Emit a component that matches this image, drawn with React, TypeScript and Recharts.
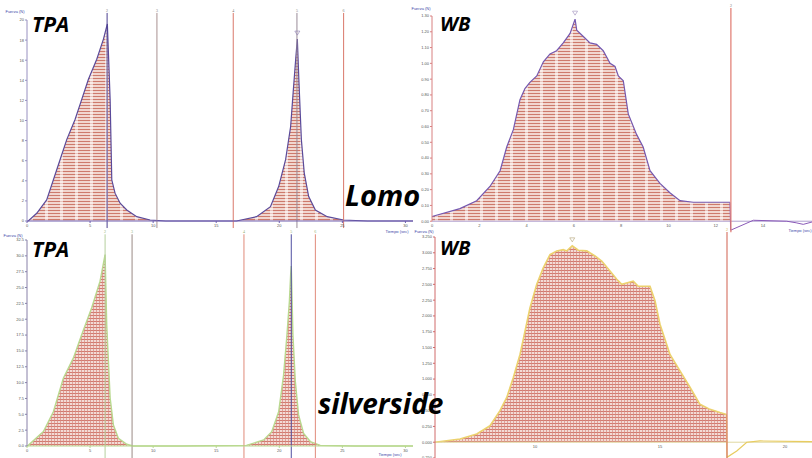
import React from 'react';
import { ComposedChart, Area, Line, XAxis, YAxis, ReferenceLine, ReferenceDot } from 'recharts';

// ---------- TPA Lomo ----------
const tpaLomoTime = [0, 0.1, 0.77, 1.56, 2.62, 3.15, 3.81, 4.34, 4.87, 5.53, 6.06, 6.37, 6.59, 6.72, 6.98, 7.38, 7.91, 8.7, 9.76, 11, 16.6, 18.2, 19.3, 19.95, 20.5, 20.9, 21.1, 21.3, 21.43, 21.56, 21.75, 21.98, 22.33, 22.86, 23.8, 25.1, 27, 30.6];
const tpaLomoForce = [0, 0, 0.77, 2.1, 6.1, 8.1, 10.1, 12.1, 14.1, 16.1, 18.1, 19.6, 12.1, 4.1, 2.77, 1.77, 1.1, 0.43, 0.1, 0, 0, 0.43, 1.43, 3.43, 6.1, 9.4, 12.8, 16.1, 18.1, 13.8, 8.1, 4.77, 2.43, 1.1, 0.43, 0.1, 0, 0];
const tpaLomoMarks = [6.35, 10.3, 16.35, 21.4, 25.1];
const tpaMarkLabels = ['2', '3', '4', '5', '6'];
const tpaLomoPeak = { t: 21.43, f: 18.1 };

// ---------- TPA silverside ----------
const tpaSilvTime = [0, 0.1, 1.3, 2.09, 2.88, 3.68, 4.34, 5.13, 5.79, 6.19, 6.32, 6.59, 6.85, 7.25, 7.91, 8.4, 12, 17.4, 18.76, 19.4, 19.95, 20.34, 20.61, 20.8, 20.9, 20.95, 21.08, 21.27, 21.53, 21.93, 22.46, 23.25, 26, 30.6];
const tpaSilvForce = [0, 0.1, 2.27, 5.4, 10.7, 13.9, 17.6, 21.8, 26, 30.2, 19.1, 7.6, 3.3, 1.2, 0.27, 0, 0, 0.1, 0.95, 2.27, 5.4, 11.2, 17.6, 22.8, 27, 28.4, 17.6, 10.2, 4.9, 2.0, 0.7, 0.1, 0, 0];
const tpaSilvMarks = [6.19, 8.33, 17.2, 20.95, 22.86];

// ---------- WB Lomo ----------
const wbLomoTime = [0, 1.18, 1.89, 2.45, 2.88, 3.16, 3.44, 3.72, 3.93, 4.14, 4.43, 4.71, 4.99, 5.27, 5.55, 5.84, 6.05, 6.12, 6.4, 6.68, 6.96, 7.24, 7.53, 7.74, 7.88, 8.09, 8.3, 8.65, 8.93, 9.22, 9.64, 10.06, 10.49, 11.05, 11.75, 12.6];
const wbLomoForce = [0.03, 0.08, 0.13, 0.22, 0.32, 0.47, 0.58, 0.77, 0.84, 0.88, 0.92, 1.01, 1.06, 1.08, 1.13, 1.19, 1.28, 1.21, 1.17, 1.13, 1.12, 1.08, 1.0, 0.98, 0.92, 0.89, 0.68, 0.55, 0.47, 0.32, 0.24, 0.18, 0.13, 0.12, 0.12, 0.12];
const wbLomoTailTime = [12.6, 12.63, 13.59, 15.0, 15.4, 15.7, 16.07];
const wbLomoTail = [0.12, -0.057, 0.006, 0, -0.01, -0.02, -0.005];
const wbLomoMarks = [12.64];
const wbLomoPeak = { t: 6.05, f: 1.28 };

// ---------- WB silverside ----------
const wbSilvTime = [6.0, 7.0, 7.67, 8.2, 8.6, 8.87, 9.13, 9.4, 9.6, 9.8, 10.07, 10.33, 10.6, 10.87, 11.13, 11.27, 11.49, 11.73, 12.07, 12.4, 12.67, 13.0, 13.27, 13.47, 13.73, 13.93, 14.13, 14.6, 14.8, 15.0, 15.4, 15.8, 16.2, 16.6, 17.0, 17.4, 17.66];
const wbSilvForce = [0, 0.05, 0.13, 0.26, 0.5, 0.71, 1.02, 1.39, 1.76, 2.13, 2.5, 2.76, 2.97, 3.03, 3.05, 3.03, 3.11, 3.04, 3.03, 2.95, 2.87, 2.71, 2.58, 2.5, 2.53, 2.55, 2.47, 2.47, 2.24, 1.87, 1.39, 1.13, 0.87, 0.6, 0.52, 0.47, 0.44];
const wbSilvTailTime = [17.66, 17.68, 18.07, 18.47, 19.0, 21.08];
const wbSilvTail = [0.44, -0.24, -0.14, 0, 0.02, 0.01];
const wbSilvMarks = [17.68];
const wbSilvPeak = { t: 11.49, f: 3.11 };

// ---------- ticks ----------
const tpaXTicks = [0, 5, 10, 15, 20, 25, 30];
const tpaLomoYTicks = [0, 2, 4, 6, 8, 10, 12, 14, 16, 18, 20];
const tpaSilvYTicks = [0, 2.5, 5, 7.5, 10, 12.5, 15, 17.5, 20, 22.5, 25, 27.5, 30, 32.5];
const wbLomoXTicks = [0, 2, 4, 6, 8, 10, 12, 14];
const wbLomoYTicks = [0, 0.1, 0.2, 0.3, 0.4, 0.5, 0.6, 0.7, 0.8, 0.9, 1.0, 1.1, 1.2, 1.3];
const wbSilvXTicks = [10, 15, 20];
const wbSilvYTicks = [-0.25, 0, 0.25, 0.5, 0.75, 1, 1.25, 1.5, 1.75, 2, 2.25, 2.5, 2.75, 3, 3.25];

const build = (ts: number[], vs: number[], key: string) => ts.map((t, i) => ({ t, [key]: vs[i] }));

const tpaLomoData = build(tpaLomoTime, tpaLomoForce, 'f');
const tpaSilvData = build(tpaSilvTime, tpaSilvForce, 'f');
const wbLomoData = [...build(wbLomoTime, wbLomoForce, 'f'), ...build(wbLomoTailTime, wbLomoTail, 'tail')];
const wbSilvData = [...build(wbSilvTime, wbSilvForce, 'f'), ...build(wbSilvTailTime, wbSilvTail, 'tail')];

const tickStyle = { fontSize: 4, fill: '#555', fontFamily: 'Arial, sans-serif' };

const shiftedTick = (shift: number) => (props: any) => {
  const { x, y, payload } = props;
  return (
    <text x={x} y={y - shift} dy="0.71em" textAnchor="middle" fontSize={4} fill="#555" fontFamily="Arial, sans-serif">
      {payload.value}
    </text>
  );
};

const peakMarker = (color: string) => (props: any) => {
  const { cx, cy } = props;
  if (cx == null || cy == null) return <g />;
  const top = cy - 8;
  return (
    <path d={`M${cx - 2.5},${top} L${cx + 2.5},${top} L${cx},${top + 4} Z`} fill="none" stroke={color} strokeWidth={0.6} />
  );
};

const CoarsePattern = ({ id }: { id: string }) => (
  <defs>
    <pattern id={id} width="15" height="3" patternUnits="userSpaceOnUse">
      <rect width="15" height="3" fill="#f1d6cf" />
      <rect width="15" height="1" y="0" fill="#cd7a6c" />
      <rect width="3" height="3" x="0" fill="#ffffff" opacity="0.55" />
    </pattern>
  </defs>
);

const FinePattern = ({ id }: { id: string }) => (
  <defs>
    <pattern id={id} width="3" height="3" patternUnits="userSpaceOnUse">
      <rect width="3" height="3" fill="#f3dad5" />
      <rect width="3" height="1" y="0" fill="#d27a6f" />
      <rect width="1" height="3" x="0" fill="#d88a80" opacity="0.7" />
    </pattern>
  </defs>
);

const tlLineColors = ['#4a3f8f', '#a89090', '#d9786a', '#9a8c98', '#d9786a'];
const blLineColors = ['#b5cf9e', '#9a8a86', '#e08a7a', '#4f4fa0', '#e08a7a'];

export default function App() {
  return (
    <div style={{ position: 'absolute', left: 0, top: 0, width: 812, height: 458, overflow: 'hidden', background: '#fff' }}>
      {/* TPA Lomo */}
      <div style={{ position: 'absolute', left: 0, top: 0 }}>
        <ComposedChart width={420} height={235} data={tpaLomoData} margin={{ top: 20, right: 7, bottom: 0, left: 0 }}>
          <CoarsePattern id="patTL" />
          <XAxis dataKey="t" type="number" domain={[0, 30.6]} ticks={tpaXTicks} interval={0} height={14}
            stroke="#6f5fb0" tick={tickStyle} tickSize={2} tickMargin={1} />
          <YAxis type="number" domain={[0, 20]} ticks={tpaLomoYTicks} interval={0} width={27}
            stroke="#9890c0" tick={tickStyle} tickSize={2} tickMargin={1} />
          <Area type="linear" dataKey="f" stroke="#5a4a9a" strokeWidth={1.2} fill="url(#patTL)" fillOpacity={1}
            baseValue={0} isAnimationActive={false} dot={false} activeDot={false} />
          {tpaLomoMarks.map((m, i) => (
            <ReferenceLine key={i} segment={[{ x: m, y: -0.7 }, { x: m, y: 20.7 }]} ifOverflow="visible"
              stroke={tlLineColors[i]} strokeWidth={1}
              label={{ value: tpaMarkLabels[i], position: 'top', fontSize: 4, fill: '#777', offset: 1 }} />
          ))}
          <ReferenceDot x={tpaLomoPeak.t} y={tpaLomoPeak.f} ifOverflow="visible" shape={peakMarker('#8a7ab0')} />
        </ComposedChart>
      </div>

      {/* WB Lomo */}
      <div style={{ position: 'absolute', left: 405, top: 0 }}>
        <ComposedChart width={407} height={238} data={wbLomoData} margin={{ top: 16, right: 0, bottom: 0, left: 0 }}>
          <CoarsePattern id="patTR" />
          <XAxis dataKey="t" type="number" domain={[0, 16.07]} ticks={wbLomoXTicks} interval={0} height={1}
            axisLine={false} tickLine={false} tick={shiftedTick(16)} tickSize={2} tickMargin={1} />
          <YAxis type="number" domain={[-0.1, 1.3]} ticks={wbLomoYTicks} interval={0} width={27}
            axisLine={false} stroke="#d88080" tick={tickStyle} tickSize={2} tickMargin={1}
            tickFormatter={(v: number) => v.toFixed(2)} />
          <ReferenceLine y={0} stroke="#b0a0d0" strokeWidth={1} />
          <ReferenceLine segment={[{ x: 0, y: 0 }, { x: 0, y: 1.3 }]} stroke="#d88080" strokeWidth={1} />
          <Area type="linear" dataKey="f" stroke="#7458b0" strokeWidth={1.2} fill="url(#patTR)" fillOpacity={1}
            baseValue={0} isAnimationActive={false} dot={false} activeDot={false} />
          <Line type="linear" dataKey="tail" stroke="#8a5ab8" strokeWidth={1} dot={false} activeDot={false}
            isAnimationActive={false} />
          {wbLomoMarks.map((m, i) => (
            <ReferenceLine key={i} segment={[{ x: m, y: -0.07 }, { x: m, y: 1.35 }]} ifOverflow="visible"
              stroke="#e07a70" strokeWidth={1.2}
              label={{ value: '2', position: 'top', fontSize: 4, fill: '#777', offset: 1 }} />
          ))}
          <ReferenceDot x={wbLomoPeak.t} y={wbLomoPeak.f} ifOverflow="visible" shape={peakMarker('#9a8ab8')} />
        </ComposedChart>
      </div>

      {/* TPA silverside */}
      <div style={{ position: 'absolute', left: 0, top: 228 }}>
        <ComposedChart width={420} height={230} data={tpaSilvData} margin={{ top: 12, right: 7, bottom: 0, left: 0 }}>
          <FinePattern id="patBL" />
          <XAxis dataKey="t" type="number" domain={[0, 30.6]} ticks={tpaXTicks} interval={0} height={12}
            stroke="#b8d890" tick={tickStyle} tickSize={2} tickMargin={1} />
          <YAxis type="number" domain={[0, 32.5]} ticks={tpaSilvYTicks} interval={0} width={27}
            stroke="#8880a8" tick={tickStyle} tickSize={2} tickMargin={1}
            tickFormatter={(v: number) => v.toFixed(1)} />
          <Area type="linear" dataKey="f" stroke="#b9d98f" strokeWidth={1.4} fill="url(#patBL)" fillOpacity={1}
            baseValue={0} isAnimationActive={false} dot={false} activeDot={false} />
          {tpaSilvMarks.map((m, i) => (
            <ReferenceLine key={i} segment={[{ x: m, y: -1.9 }, { x: m, y: 33.4 }]} ifOverflow="visible"
              stroke={blLineColors[i]} strokeWidth={1}
              label={{ value: tpaMarkLabels[i], position: 'top', fontSize: 4, fill: '#8ab070', offset: 1 }} />
          ))}
        </ComposedChart>
      </div>

      {/* WB silverside */}
      <div style={{ position: 'absolute', left: 408, top: 225 }}>
        <ComposedChart width={404} height={234} data={wbSilvData} margin={{ top: 12, right: 0, bottom: 0, left: 0 }}>
          <FinePattern id="patBR" />
          <XAxis dataKey="t" type="number" domain={[6, 21.08]} ticks={wbSilvXTicks} interval={0} height={1}
            axisLine={false} tickLine={false} tick={shiftedTick(16)} tickSize={2} tickMargin={1} />
          <YAxis type="number" domain={[-0.25, 3.25]} ticks={wbSilvYTicks} interval={0} width={27}
            stroke="#d06a6a" tick={tickStyle} tickSize={2} tickMargin={1}
            tickFormatter={(v: number) => v.toFixed(3)} />
          <ReferenceLine y={0} stroke="#e0d8a0" strokeWidth={1} />
          <Area type="linear" dataKey="f" stroke="#ecd26e" strokeWidth={1.6} fill="url(#patBR)" fillOpacity={1}
            baseValue={0} isAnimationActive={false} dot={false} activeDot={false} />
          <Line type="linear" dataKey="tail" stroke="#e8cc60" strokeWidth={1.2} dot={false} activeDot={false}
            isAnimationActive={false} />
          {wbSilvMarks.map((m, i) => (
            <ReferenceLine key={i} segment={[{ x: m, y: -0.25 }, { x: m, y: 3.33 }]} ifOverflow="visible"
              stroke="#d87a6c" strokeWidth={1.2}
              label={{ value: '2', position: 'top', fontSize: 4, fill: '#d0b040', offset: 1 }} />
          ))}
          <ReferenceDot x={wbSilvPeak.t} y={wbSilvPeak.f} ifOverflow="visible" shape={peakMarker('#b0a070')} />
        </ComposedChart>
      </div>

      {/* Overlay texts */}
      <svg width={812} height={458} style={{ position: 'absolute', left: 0, top: 0, pointerEvents: 'none' }}>
        <g fontFamily="'Open Sans', sans-serif" fontWeight={700} fontStyle="italic" fill="#000">
          <text x={32} y={32} fontSize={21}>TPA</text>
          <text x={440} y={31} fontSize={20}>WB</text>
          <text x={345} y={206} fontSize={29}>Lomo</text>
          <text x={318} y={414} fontSize={28}>silverside</text>
          <text x={32} y={257} fontSize={21}>TPA</text>
          <text x={440} y={255} fontSize={20}>WB</text>
        </g>
        <g fontFamily="Arial, sans-serif" fontSize={4} fill="#3a48a8" textAnchor="middle">
          <text x={15} y={13}>Fuerza (N)</text>
          <text x={397} y={233}>Tiempo (sec)</text>
          <text x={421} y={10}>Fuerza (N)</text>
          <text x={800} y={232}>Tiempo (sec)</text>
          <text x={13} y={237}>Fuerza (N)</text>
          <text x={390} y={456}>Tiempo (sec)</text>
          <text x={424} y={233}>Fuerza (N)</text>
        </g>
      </svg>
    </div>
  );
}
